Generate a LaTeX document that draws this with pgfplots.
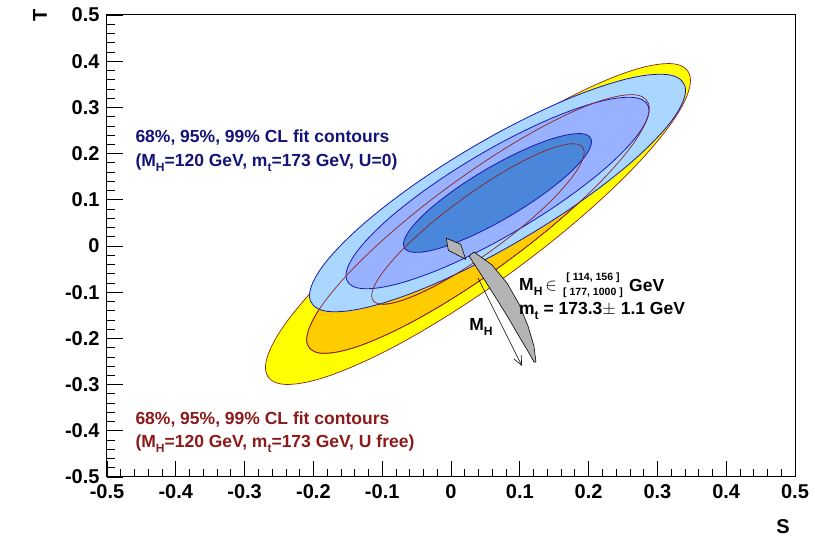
\documentclass[border=0pt]{standalone}
\usepackage{fontspec}
\setmainfont{Liberation Sans}
\usepackage{pgfplots}
\pgfplotsset{compat=1.18}
\usetikzlibrary{arrows.meta}
\definecolor{cyel}{HTML}{FFFF00}
\definecolor{corange}{HTML}{FFCC00}
\definecolor{clight}{HTML}{AAD7FF}
\definecolor{cmed}{HTML}{99B2FF}
\definecolor{cdark}{HTML}{4A86DA}
\definecolor{cblueline}{HTML}{1818B0}
\definecolor{cbrown}{HTML}{8B2323}
\definecolor{ctextblue}{HTML}{141478}
\definecolor{ctextred}{HTML}{8B1A1A}
\definecolor{cgray}{HTML}{B4B4B4}
\newcommand\sub[1]{\raisebox{-0.55ex}{\fontsize{12}{12}\selectfont #1}}
\begin{document}
\begin{tikzpicture}
\begin{axis}[
  scale only axis, width=688pt, height=462pt,
  xmin=-0.5, xmax=0.5, ymin=-0.5, ymax=0.5,
  xtick={-0.5,-0.4,-0.3,-0.2,-0.1,0,0.1,0.2,0.3,0.4,0.5},
  ytick={-0.5,-0.4,-0.3,-0.2,-0.1,0,0.1,0.2,0.3,0.4,0.5},
  xticklabels={-0.5,-0.4,-0.3,-0.2,-0.1,0,0.1,0.2,0.3,0.4,0.5},
  yticklabels={-0.5,-0.4,-0.3,-0.2,-0.1,0,0.1,0.2,0.3,0.4,0.5},
  minor tick num=4,
  tick align=inside,
  xtick pos=left, ytick pos=left,
  major tick length=16pt, minor tick length=8pt,
  every tick/.style={black, line width=0.7pt},
  axis line style={line width=1pt},
  ticklabel style={font=\bfseries\fontsize{20}{20}\selectfont},
  xticklabel style={yshift=-4pt},
  yticklabel style={xshift=-4pt},
  clip=false,
]
% U free 99%
\addplot[fill=cyel, draw=cbrown, line width=0.7pt, smooth cycle, tension=0.6] coordinates {
(0.3481,0.3582) (0.3246,0.2751) (0.2576,0.1572) (0.1574,0.0227) (0.0392,-0.1080) (-0.0790,-0.2151) (-0.1792,-0.2820) (-0.2462,-0.2989)
(-0.2697,-0.2630) (-0.2462,-0.1799) (-0.1792,-0.0620) (-0.0790,0.0725) (0.0392,0.2032) (0.1574,0.3103) (0.2576,0.3772) (0.3246,0.3941)};
% U free 95%
\addplot[fill=corange, draw=cbrown, line width=0.7pt, smooth cycle, tension=0.6] coordinates {
(0.2882,0.2979) (0.2693,0.2309) (0.2153,0.1359) (0.1345,0.0275) (0.0392,-0.0778) (-0.0561,-0.1641) (-0.1369,-0.2181) (-0.1909,-0.2317)
(-0.2098,-0.2027) (-0.1909,-0.1357) (-0.1369,-0.0407) (-0.0561,0.0677) (0.0392,0.1730) (0.1345,0.2593) (0.2153,0.3133) (0.2693,0.3269)};
% U free 68%
\addplot[fill=corange, draw=cbrown, line width=0.7pt, smooth cycle, tension=0.6] coordinates {
(0.1937,0.2029) (0.1819,0.1613) (0.1485,0.1024) (0.0983,0.0351) (0.0392,-0.0302) (-0.0199,-0.0837) (-0.0701,-0.1172) (-0.1035,-0.1257)
(-0.1153,-0.1077) (-0.1035,-0.0661) (-0.0701,-0.0072) (-0.0199,0.0601) (0.0392,0.1254) (0.0983,0.1789) (0.1485,0.2124) (0.1819,0.2209)};
% U=0 99%
\addplot[fill=clight, draw=cblueline, line width=0.8pt, smooth cycle, tension=0.6] coordinates {
(0.3409,0.3366) (0.3201,0.2699) (0.2609,0.1797) (0.1722,0.0795) (0.0676,-0.0153) (-0.0370,-0.0903) (-0.1257,-0.1341) (-0.1849,-0.1401)
(-0.2057,-0.1072) (-0.1849,-0.0405) (-0.1257,0.0497) (-0.0370,0.1499) (0.0676,0.2447) (0.1722,0.3197) (0.2609,0.3635) (0.3201,0.3695)};
% U=0 95%
\addplot[fill=cmed, draw=cblueline, line width=0.8pt, smooth cycle, tension=0.6] coordinates {
(0.2879,0.2936) (0.2711,0.2399) (0.2234,0.1671) (0.1519,0.0864) (0.0676,0.0099) (-0.0167,-0.0506) (-0.0882,-0.0859) (-0.1359,-0.0907)
(-0.1527,-0.0642) (-0.1359,-0.0105) (-0.0882,0.0623) (-0.0167,0.1430) (0.0676,0.2195) (0.1519,0.2800) (0.2234,0.3153) (0.2711,0.3201)};
% U=0 68%
\addplot[fill=cdark, draw=cblueline, line width=0.8pt, smooth cycle, tension=0.6] coordinates {
(0.2043,0.2257) (0.1939,0.1924) (0.1643,0.1472) (0.1199,0.0971) (0.0676,0.0497) (0.0153,0.0121) (-0.0291,-0.0098) (-0.0587,-0.0127)
(-0.0691,0.0037) (-0.0587,0.0371) (-0.0291,0.0822) (0.0153,0.1323) (0.0676,0.1797) (0.1199,0.2173) (0.1643,0.2392) (0.1939,0.2422)};
% U free outlines on top
\addplot[draw=cbrown, line width=0.7pt, smooth cycle, tension=0.6] coordinates {
(0.2882,0.2979) (0.2693,0.2309) (0.2153,0.1359) (0.1345,0.0275) (0.0392,-0.0778) (-0.0561,-0.1641) (-0.1369,-0.2181) (-0.1909,-0.2317)
(-0.2098,-0.2027) (-0.1909,-0.1357) (-0.1369,-0.0407) (-0.0561,0.0677) (0.0392,0.1730) (0.1345,0.2593) (0.2153,0.3133) (0.2693,0.3269)};
\addplot[draw=cbrown, line width=0.7pt, smooth cycle, tension=0.6] coordinates {
(0.1937,0.2029) (0.1819,0.1613) (0.1485,0.1024) (0.0983,0.0351) (0.0392,-0.0302) (-0.0199,-0.0837) (-0.0701,-0.1172) (-0.1035,-0.1257)
(-0.1153,-0.1077) (-0.1035,-0.0661) (-0.0701,-0.0072) (-0.0199,0.0601) (0.0392,0.1254) (0.0983,0.1789) (0.1485,0.2124) (0.1819,0.2209)};
% SM prediction
\addplot[fill=cgray, draw=black, line width=0.6pt] coordinates {
(-0.0068,0.0167) (0.0141,0.0037) (0.0213,-0.0288) (-0.0039,-0.0093) (-0.0068,0.0167)};
\addplot[fill=cgray, draw=black, line width=0.6pt] coordinates {
(0.0262,-0.0216) (0.0451,-0.0649) (0.0654,-0.1126) (0.0843,-0.1580) (0.1003,-0.1991) (0.1134,-0.2316) (0.1206,-0.2511)
(0.1235,-0.2511) (0.1206,-0.2165) (0.1119,-0.1732) (0.0988,-0.1255) (0.0814,-0.0801) (0.0596,-0.0411) (0.0334,-0.0130) (0.0262,-0.0216)};
\addplot[black, line width=0.6pt, -{Straight Barb[length=9pt,width=8pt]}] coordinates {(0.0392,-0.0693) (0.1032,-0.2597)};
% texts
\node[anchor=west, text=ctextblue, font=\bfseries\fontsize{17.5}{21}\selectfont] at (axis cs:-0.4637,0.2338) {68\%, 95\%, 99\% CL fit contours};
\node[anchor=west, text=ctextblue, font=\bfseries\fontsize{17.5}{21}\selectfont] at (axis cs:-0.4637,0.1810) {(M\sub{H}=120 GeV, m\sub{t}=173 GeV, U=0)};
\node[anchor=west, text=ctextred, font=\bfseries\fontsize{17.5}{21}\selectfont] at (axis cs:-0.4637,-0.3745) {68\%, 95\%, 99\% CL fit contours};
\node[anchor=west, text=ctextred, font=\bfseries\fontsize{17.5}{21}\selectfont] at (axis cs:-0.4637,-0.4270) {(M\sub{H}=120 GeV, m\sub{t}=173 GeV, U free)};
\node[anchor=west, font=\bfseries\fontsize{17.5}{21}\selectfont, inner sep=0pt] at (axis cs:0.0988,-0.0887) {M\sub{H}\,$\in$};
\node[font=\bfseries\fontsize{10.5}{10.5}\selectfont, inner sep=0pt] at (axis cs:0.2064,-0.0680) {[ 114, 156 ]};
\node[font=\bfseries\fontsize{10.5}{10.5}\selectfont, inner sep=0pt] at (axis cs:0.2064,-0.1015) {[ 177, 1000 ]};
\node[anchor=west, font=\bfseries\fontsize{17.5}{21}\selectfont, inner sep=0pt] at (axis cs:0.2587,-0.0860) {GeV};
\node[anchor=west, font=\bfseries\fontsize{17.5}{21}\selectfont, inner sep=0pt] at (axis cs:0.0988,-0.1400) {m\sub{t} = 173.3$\pm$ 1.1 GeV};
\node[font=\bfseries\fontsize{17.5}{21}\selectfont] at (axis cs:0.0436,-0.1753) {M\sub{H}};
\node[font=\bfseries\fontsize{20}{20}\selectfont] at (axis description cs:0.9826,-0.108) {S};
\node[font=\bfseries\fontsize{20}{20}\selectfont, rotate=90] at (axis description cs:-0.0974,1.0) {T};
\end{axis}
\pgfresetboundingbox
\path ([shift={(-107pt,-64pt)}]current axis.south west) rectangle ([shift={(708pt,477pt)}]current axis.south west);
\end{tikzpicture}
\end{document}
